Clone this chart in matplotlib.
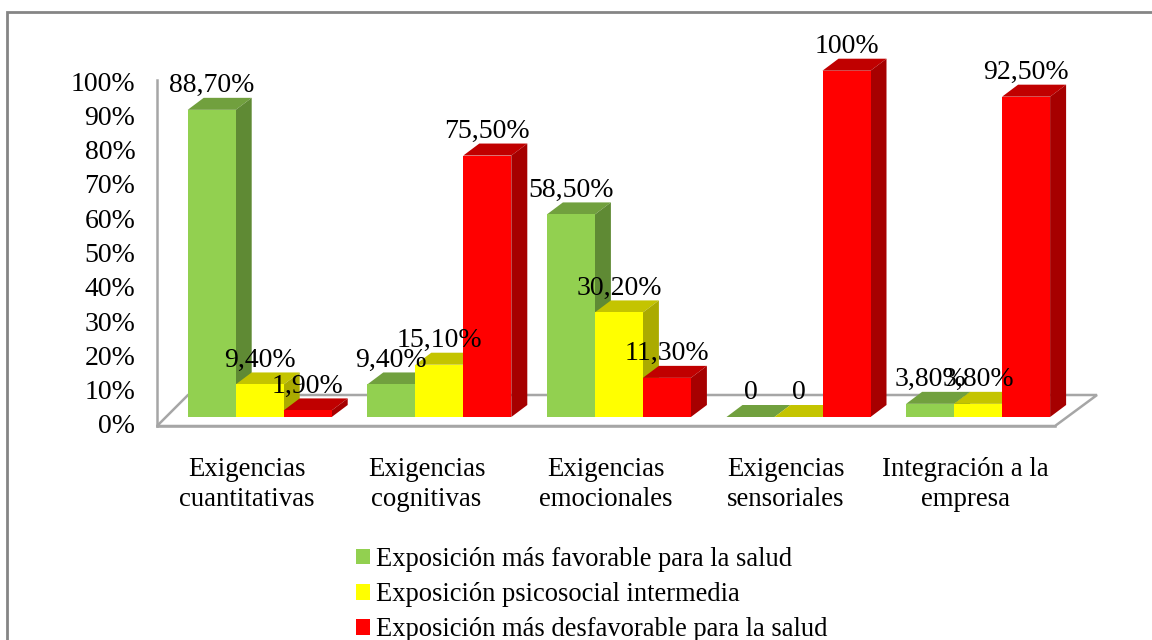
#!/usr/bin/env python
"""Pseudo-3D grouped bars of psychosocial exposure by dimension."""
import matplotlib
matplotlib.use("Agg")
import matplotlib.pyplot as plt
from matplotlib.patches import Polygon, Rectangle

CATEGORIES = ["Exigencias\ncuantitativas", "Exigencias\ncognitivas", "Exigencias\nemocionales",
              "Exigencias\nsensoriales", "Integración a la\nempresa"]
SERIES_NAMES = ["Exposición más favorable para la salud", "Exposición psicosocial intermedia",
                "Exposición más desfavorable para la salud"]
FAVORABLE = [88.7, 9.4, 58.5, 0, 3.8]
INTERMEDIATE = [9.4, 15.1, 30.2, 0, 3.8]
UNFAVORABLE = [1.9, 75.5, 11.3, 100, 92.5]
FAVORABLE_LABELS = ["88,70%", "9,40%", "58,50%", "0", "3,80%"]
INTERMEDIATE_LABELS = ["9,40%", "15,10%", "30,20%", "0", "3,80%"]
UNFAVORABLE_LABELS = ["1,90%", "75,50%", "11,30%", "100%", "92,50%"]
TICKS = list(range(0, 101, 10))

# front, top, side
GREEN = ("#92D050", "#71A03E", "#5F8A34")
YELLOW = ("#FFFF00", "#C4C400", "#ABAB00")
RED = ("#FF0000", "#C00000", "#A60000")
GREY = "#A6A6A6"

# one group step is 179.6 px, one percent is 3.463 px
X_STEP, Y_STEP = 179.6, 3.463
X0, Y0 = 187.7, 417.0
BAR_W = 48 / X_STEP
DX, DY = 16 / X_STEP, 12 / Y_STEP
FLOOR_Y = -9 / Y_STEP
BACK_Y = 22 / Y_STEP
LEFT_X = (157 - X0) / X_STEP

plt.rcParams["font.family"] = ["Liberation Serif", "DejaVu Serif"]
plt.rcParams["font.size"] = 20

fig = plt.figure(figsize=(11.52, 6.4), dpi=100)
ax = fig.add_axes([0, 0, 1, 1])
ax.patch.set_visible(False)
ax.set_xlim(-X0 / X_STEP, (1152 - X0) / X_STEP)
ax.set_ylim((Y0 - 640) / Y_STEP, Y0 / Y_STEP)

# outer frame, only its top and left edges fall inside the figure
fig.add_artist(Rectangle((7 / 1152, -0.05), 1.05, 1.05 - 12 / 640, transform=fig.transFigure,
                         fill=False, ec="#858585", lw=2))

# floor
ax.add_patch(Polygon([(LEFT_X, FLOOR_Y), (LEFT_X + 31 / X_STEP, BACK_Y), ((1097 - X0) / X_STEP, BACK_Y),
                      ((1055 - X0) / X_STEP, FLOOR_Y)], closed=True, fc="white", ec=GREY, lw=1.8, zorder=1))

for spine in ["top", "right"]:
    ax.spines[spine].set_visible(False)
ax.spines["left"].set_position(("data", LEFT_X))
ax.spines["left"].set_bounds(FLOOR_Y, 97.3)
ax.spines["bottom"].set_position(("data", FLOOR_Y))
ax.spines["bottom"].set_bounds(LEFT_X, (1055 - X0) / X_STEP)
for spine in ["left", "bottom"]:
    ax.spines[spine].set_color(GREY)
    ax.spines[spine].set_linewidth(1.8)

# tick labels sit on the front plane, below the bars' baseline
ax.set_yticks([t * 0.99 + FLOOR_Y + 0.6 for t in TICKS], [f"{t}%" for t in TICKS])
ax.set_xticks([i + 0.33 for i in range(len(CATEGORIES))], CATEGORIES, linespacing=1.3, fontsize=19.3)
ax.tick_params(axis="y", length=0, pad=15.5)
ax.tick_params(axis="x", length=0, pad=22)

all_series = [(FAVORABLE, FAVORABLE_LABELS, GREEN), (INTERMEDIATE, INTERMEDIATE_LABELS, YELLOW),
              (UNFAVORABLE, UNFAVORABLE_LABELS, RED)]
handles = []
for s, (vals, labels, (front, top, side)) in enumerate(all_series):
    xs = [i + s * BAR_W for i in range(len(vals))]
    z = 3 + s
    for x, v in zip(xs, vals):
        ax.add_patch(Polygon([(x, v), (x + DX, v + DY), (x + BAR_W + DX, v + DY), (x + BAR_W, v)],
                             closed=True, fc=top, ec="none", zorder=z))
        ax.add_patch(Polygon([(x + BAR_W, 0), (x + BAR_W + DX, DY), (x + BAR_W + DX, v + DY), (x + BAR_W, v)],
                             closed=True, fc=side, ec="none", zorder=z))
    bars = ax.bar(xs, vals, BAR_W, align="edge", color=front, zorder=z + 0.5, label=SERIES_NAMES[s])
    handles.append(bars)
    for x, v, txt in zip(xs, vals, labels):
        ax.annotate(txt, (x + BAR_W / 2, v), xytext=(0, 17.5), textcoords="offset points",
                    ha="center", va="center", zorder=10)

# the last entry runs off the bottom of the chart area
ax.legend(handles=handles, loc="upper left", bbox_to_anchor=(356 / 1152, 1 - 547 / 640), frameon=False,
          fontsize=19.1, handlelength=0.53, handleheight=0.53, handletextpad=0.23, labelspacing=0.38,
          borderpad=0, borderaxespad=0)

fig.savefig("out.png", dpi=100)
